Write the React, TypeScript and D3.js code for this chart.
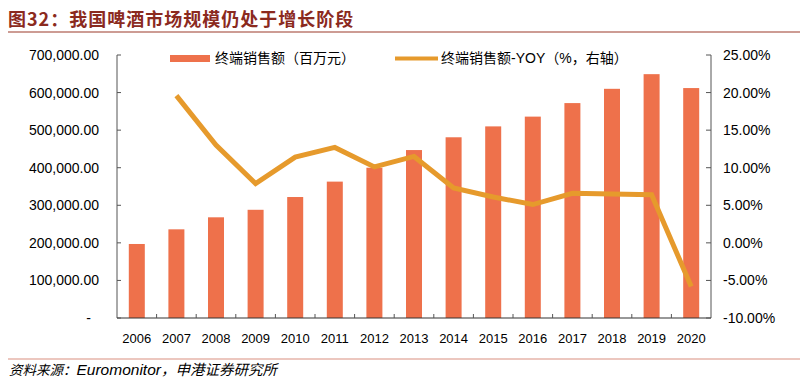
import React from "react";
import * as d3 from "d3";

const years = ["2006","2007","2008","2009","2010","2011","2012","2013","2014","2015","2016","2017","2018","2019","2020"];
const sales = [197000,236000,268000,288000,322000,363000,400000,447000,481000,510000,536000,572000,610000,649000,612000];
const yoy: (number | null)[] = [null,19.6,13.0,7.9,11.4,12.7,10.1,11.5,7.3,6.1,5.1,6.6,6.5,6.4,-5.8];
const leftTicks = [0,100000,200000,300000,400000,500000,600000,700000];
const rightTicks = [-10,-5,0,5,10,15,20,25];
const title = "图32：我国啤酒市场规模仍处于增长阶段";
const sourceA = "资料来源：";
const sourceB = "Euromonitor";
const sourceC = "，申港证券研究所";
const legendBar = "终端销售额（百万元）";
const legendLine = "终端销售额-YOY（%，右轴）";

const W = 801, H = 380;
const L = 117, R = 711, T = 55, B = 318;
const BAR = "#EE714B";
const LINE = "#E69A2C";
const FONT = "Liberation Sans, Arial, 'Noto Sans CJK SC', sans-serif";

export default function App() {
  const xb = d3.scaleBand<string>().domain(years).range([L, R]);
  const yL = d3.scaleLinear().domain([0, 700000]).range([B, T]);
  const yR = d3.scaleLinear().domain([-10, 25]).range([B, T]);
  const fmtL = (v: number) => (v === 0 ? "-" : d3.format(",.2f")(v));
  const fmtR = (v: number) => v.toFixed(2) + "%";
  const line = d3.line<number | null>()
    .defined((d) => d !== null)
    .x((_, i) => (xb(years[i]) as number) + xb.bandwidth() / 2)
    .y((d) => yR(d as number));
  return (
    <svg width={W} height={H} style={{ position: "absolute", left: 0, top: 0, background: "#fff" }}>
      <text x={8} y={26} fontSize={18} fontWeight="bold" letterSpacing={1} fill="#8B2A1E" fontFamily="'Noto Sans CJK SC', sans-serif">{title}</text>
      <line x1={8} x2={800} y1={32} y2={32} stroke="#9B3A2A" strokeWidth={1.2} />

      {sales.map((v, i) => (
        <rect key={i} x={(xb(years[i]) as number) + xb.bandwidth() / 2 - 8} y={yL(v)} width={16} height={B - yL(v)} fill={BAR} />
      ))}
      <path d={line(yoy) || ""} fill="none" stroke={LINE} strokeWidth={5} strokeLinejoin="miter" />

      {/* axes */}
      <line x1={L} x2={L} y1={T} y2={B} stroke="#555" strokeWidth={1} />
      <line x1={R} x2={R} y1={T} y2={B} stroke="#555" strokeWidth={1} />
      <line x1={L} x2={R} y1={B} y2={B} stroke="#333" strokeWidth={1.2} />
      {leftTicks.map((t) => (
        <g key={"l" + t}>
          <line x1={L} x2={L + 4} y1={yL(t)} y2={yL(t)} stroke="#555" />
          <text x={t === 0 ? 91 : 99} y={yL(t) + 5} fontSize={14} textAnchor="end" fontFamily={FONT} fill="#000">{fmtL(t)}</text>
        </g>
      ))}
      {rightTicks.map((t) => (
        <g key={"r" + t}>
          <line x1={R - 5} x2={R} y1={yR(t)} y2={yR(t)} stroke="#555" />
          <text x={723} y={yR(t) + 5} fontSize={14} textAnchor="start" fontFamily={FONT} fill="#000">{fmtR(t)}</text>
        </g>
      ))}
      {years.map((yr, i) => (
        <g key={yr}>
          {i > 0 && <line x1={xb(yr) as number} x2={xb(yr) as number} y1={B} y2={B - 4} stroke="#555" />}
          <text x={(xb(yr) as number) + xb.bandwidth() / 2} y={343} fontSize={13} textAnchor="middle" fontFamily={FONT} fill="#000">{yr}</text>
        </g>
      ))}

      {/* legend */}
      <rect x={170} y={55} width={40} height={7} fill={BAR} />
      <text x={215} y={63} fontSize={14} fontFamily={FONT} fill="#000">{legendBar}</text>
      <line x1={395} x2={438} y1={58.5} y2={58.5} stroke={LINE} strokeWidth={4} />
      <text x={441} y={63} fontSize={14} fontFamily={FONT} fill="#000">{legendLine}</text>

      <line x1={8} x2={800} y1={359} y2={359} stroke="#D98F80" strokeWidth={1.2} />
      <text x={9} y={375} fontStyle="italic" fontFamily={FONT} fill="#000">
        <tspan fontSize={13.5}>{sourceA}</tspan>
        <tspan fontSize={15.5}>{sourceB}</tspan>
        <tspan fontSize={14.5}>{sourceC}</tspan>
      </text>
    </svg>
  );
}
